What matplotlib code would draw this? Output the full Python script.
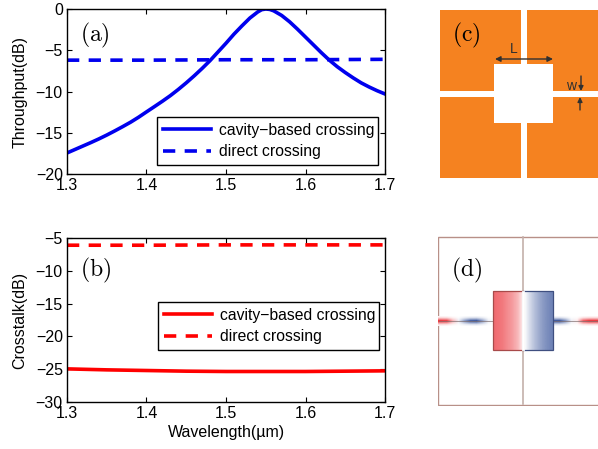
import matplotlib
matplotlib.use("Agg")
import matplotlib.pyplot as plt
from matplotlib.colors import LinearSegmentedColormap
from matplotlib.patches import Rectangle

plt.rcParams['font.family'] = ['Liberation Sans', 'DejaVu Sans']
plt.rcParams['mathtext.fontset'] = 'cm'
plt.rcParams['axes.linewidth'] = 1.0

W, H = 598, 449

# --- data ---
wl_a = [1.30, 1.31, 1.32, 1.33, 1.34, 1.35, 1.36, 1.37, 1.38, 1.39, 1.40, 1.41, 1.42, 1.43, 1.44, 1.45, 1.46,
        1.47, 1.48, 1.49, 1.50, 1.51, 1.52, 1.53, 1.54, 1.545, 1.55, 1.555,
        1.56, 1.57, 1.58, 1.59, 1.60, 1.61, 1.62, 1.63, 1.64, 1.65, 1.66, 1.67, 1.68, 1.69, 1.70]
cavity_through = [-17.45, -17.03, -16.61, -16.19, -15.75, -15.28, -14.78, -14.26, -13.72, -13.12, -12.47, -11.83, -11.18,
                  -10.5, -9.75, -8.95, -8.1, -7.2, -6.25, -5.2, -4.15, -3.05, -2.05, -1.1, -0.35, -0.08, 0.0, -0.05,
                  -0.22, -0.78, -1.55, -2.45, -3.4, -4.35, -5.3, -6.2, -7.0, -7.7, -8.35, -8.95, -9.45, -9.9, -10.3]
wl_flat = [1.30, 1.40, 1.50, 1.60, 1.70]
direct_through = [-6.2, -6.2, -6.15, -6.15, -6.1]
wl_b = [1.30, 1.35, 1.40, 1.45, 1.50, 1.55, 1.60, 1.65, 1.70]
cavity_cross = [-24.95, -25.1, -25.2, -25.3, -25.35, -25.35, -25.35, -25.3, -25.25]
direct_cross = [-6.1, -6.1, -6.05, -6.05, -6.05]
series_labels = ['cavity\u2212based crossing', 'direct crossing']
xticks = [1.3, 1.4, 1.5, 1.6, 1.7]
xticklabels = ['1.3', '1.4', '1.5', '1.6', '1.7']
yticks_a = [-20, -15, -10, -5, 0]
yticks_b = [-30, -25, -20, -15, -10, -5]
# panel (d) field samples, red positive / blue negative
cavity_field = [0.62, 0.58, 0.5, 0.42, 0.3, 0.04, -0.16, -0.32, -0.45, -0.55, -0.62]
guide_field = [0.95, 0.9, 0.35, -0.1, -0.55, -0.9, -0.95, -0.55, -0.1, 0.0, 0.0, 0.0, 0.0, 0.0, 0.0, 0.0,
               0.0, 0.0, -0.3, -0.95, -0.95, -0.6, -0.1, 0.1, 0.75, 0.95, 0.95]
guide_profile = [0.06, 0.45, 1.0, 0.45, 0.06]

fig = plt.figure(figsize=(W / 100, H / 100), dpi=100)

def px_axes(x0, y0, x1, y1, **kw):
    return fig.add_axes([x0 / W, 1 - y1 / H, (x1 - x0) / W, (y1 - y0) / H], **kw)

FS = 11.5
LFS = 11.3

def style(ax, yticks, ylim):
    ax.set_xlim(1.3, 1.7)
    ax.set_ylim(*ylim)
    ax.set_xticks(xticks, xticklabels)
    ax.set_yticks(yticks)
    ax.tick_params(direction='in', top=True, right=True, length=3.5, width=0.8, labelsize=FS, pad=3)

def legend(ax, anchor, handles):
    leg = ax.legend(handles=handles, loc='lower left', bbox_to_anchor=anchor, bbox_transform=fig.transFigure,
                    mode='expand', fontsize=LFS, fancybox=False, framealpha=1, edgecolor='black',
                    borderpad=0.36, labelspacing=0.42, handlelength=3.05, handletextpad=0.52,
                    borderaxespad=0)
    leg.get_frame().set_linewidth(1.0)

# (a)
ax = px_axes(67, 9, 385, 174)
l1, = ax.plot(wl_a, cavity_through, color='#0000ee', lw=2.6, label=series_labels[0])
l2, = ax.plot(wl_flat, direct_through, color='#0000ee', lw=2.6, ls=(0, (3.4, 2.6)), label=series_labels[1])
style(ax, yticks_a, (-20, 0))
ax.set_ylabel('Throughput(dB)', fontsize=FS, labelpad=6)
ax.text(1.316, -3.2, r'$\mathrm{(a)}$', fontsize=17, ha='left', va='center')
legend(ax, (157 / W, 1 - 165 / H, 221 / W, 47 / H), [l1, l2])

# (b)
ax = px_axes(67, 238, 385, 402)
l1, = ax.plot(wl_b, cavity_cross, color='#ff0000', lw=2.6, label=series_labels[0])
l2, = ax.plot(wl_flat, direct_cross, color='#ff0000', lw=2.6, ls=(0, (3.4, 2.6)), label=series_labels[1])
style(ax, yticks_b, (-30, -5))
ax.set_xlabel('Wavelength(\u00b5m)', fontsize=FS, labelpad=3)
ax.set_ylabel('Crosstalk(dB)', fontsize=FS, labelpad=6)
ax.text(1.316, -9.9, r'$\mathrm{(b)}$', fontsize=17, ha='left', va='center')
legend(ax, (158 / W, 1 - 350 / H, 221 / W, 47 / H), [l1, l2])

# (c) schematic, axes in pixel units of the picture
ax = px_axes(440, 10, 598, 178)
ax.set_xlim(440, 598)
ax.set_ylim(178, 10)
ax.axis('off')
ORANGE = '#f58220'
for x0, x1 in ((440, 521), (527, 598)):
    for y0, y1 in ((10, 91), (97, 178)):
        ax.add_patch(Rectangle((x0, y0), x1 - x0, y1 - y0, fc=ORANGE, ec='none'))
ax.add_patch(Rectangle((494, 64), 59, 59, fc='white', ec='none'))
dark = '#303030'
ax.annotate('', xy=(495, 59), xytext=(553, 59),
            arrowprops=dict(arrowstyle='<|-|>', color=dark, lw=1, mutation_scale=8, shrinkA=0, shrinkB=0))
ax.text(514, 49, 'L', fontsize=10, color=dark, ha='center', va='center')
ax.annotate('', xy=(581, 91), xytext=(581, 76),
            arrowprops=dict(arrowstyle='-|>', color=dark, lw=1, mutation_scale=7, shrinkA=0, shrinkB=0))
ax.annotate('', xy=(580, 97), xytext=(580, 110),
            arrowprops=dict(arrowstyle='-|>', color=dark, lw=1, mutation_scale=7, shrinkA=0, shrinkB=0))
ax.text(571, 86, 'w', fontsize=10, color=dark, ha='center', va='center')
ax.text(452, 35, r'$\mathrm{(c)}$', fontsize=17, ha='left', va='center')

# (d) field picture
cmap = LinearSegmentedColormap.from_list('field', ['#1a3a8c', '#ffffff', '#e8141c'])
ax = px_axes(438, 236, 598, 406)
ax.set_xlim(438, 598)
ax.set_ylim(406, 236)
ax.axis('off')
ax.add_patch(Rectangle((438.5, 236.5), 170, 168, fc='white', ec='#b89088', lw=1))
guide_img = [[a * v for v in guide_field] for a in guide_profile]
ax.imshow(guide_img, extent=(438, 598, 326, 316), cmap=cmap, vmin=-1, vmax=1,
          aspect='auto', interpolation='bilinear', zorder=2)
ax.plot([439, 598], [321, 321], color='#807070', lw=0.7, alpha=0.7, zorder=2.5)
ax.plot([522.5, 522.5], [237, 404], color='#c4b0aa', lw=1.2, zorder=2)
ax.imshow([cavity_field], extent=(493, 553, 350, 291), cmap=cmap, vmin=-1, vmax=1,
          aspect='auto', interpolation='bilinear', zorder=3)
ax.add_patch(Rectangle((493, 291), 30, 59, fc='none', ec='#a84a4a', lw=0.9, zorder=4))
ax.add_patch(Rectangle((523, 291), 30, 59, fc='none', ec='#3f4f80', lw=0.9, zorder=4))
ax.plot([523, 523], [292, 349], color='white', lw=2, zorder=4)
ax.set_xlim(438, 598)
ax.set_ylim(406, 236)
ax.text(451, 270, r'$\mathrm{(d)}$', fontsize=17, ha='left', va='center', zorder=5)

fig.savefig('out.png', dpi=100)
